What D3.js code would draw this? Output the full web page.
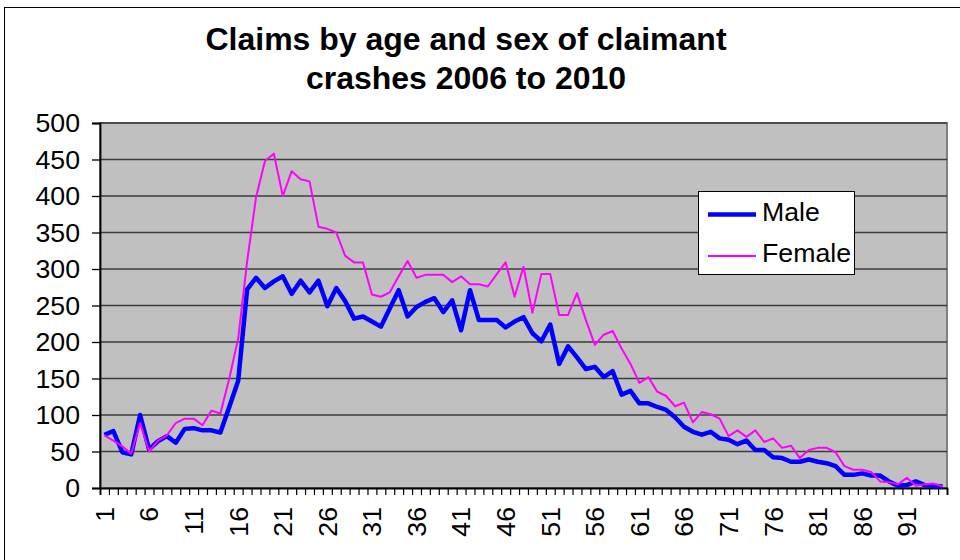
<!DOCTYPE html>
<html>
<head>
<meta charset="utf-8">
<script src="https://cdn.jsdelivr.net/npm/d3@7"></script>
<style>
  body { margin: 0; background: #fff; }
  svg { display: block; font-family: "Liberation Sans", Arial, sans-serif; }
</style>
</head>
<body>
<div id="chart"></div>
<script>
// Claims by age and sex of claimant, crashes 2006 to 2010

var titleLines = ['Claims by age and sex of claimant', 'crashes 2006 to 2010'];

// ages 1..95
var ages = d3.range(1, 96);

var maleClaims = [
  73, 78, 49, 46, 100, 53, 64, 71, 62, 81,
  82, 79, 79, 76, 111, 147, 272, 288, 274, 283,
  290, 266, 284, 268, 284, 249, 274, 256, 232, 235,
  228, 221, 246, 271, 235, 248, 255, 260, 241, 257,
  216, 271, 230, 230, 230, 220, 228, 234, 212, 201,
  224, 170, 194, 179, 163, 166, 152, 160, 128, 133,
  116, 116, 111, 107, 97, 84, 77, 73, 77, 68,
  66, 60, 65, 52, 52, 42, 41, 36, 36, 39,
  36, 34, 30, 18, 18, 20, 17, 17, 9, 3,
  4, 9, 4, 3, 2
];

var femaleClaims = [
  72, 65, 57, 47, 89, 50, 65, 72, 89, 95,
  95, 86, 106, 102, 150, 205, 310, 398, 448, 458,
  400, 434, 423, 420, 358, 355, 350, 318, 309, 309,
  265, 262, 268, 290, 311, 288, 292, 292, 292, 282,
  290, 279, 279, 276, 293, 309, 262, 303, 240, 293,
  293, 237, 237, 267, 230, 196, 210, 215, 191, 170,
  144, 152, 132, 126, 112, 117, 90, 104, 101, 95,
  71, 79, 70, 79, 63, 68, 55, 58, 41, 52,
  55, 55, 49, 30, 25, 25, 22, 9, 8, 5,
  14, 3, 5, 6, 2
];

var yTicks = [0, 50, 100, 150, 200, 250, 300, 350, 400, 450, 500];
var xLabels = [1, 6, 11, 16, 21, 26, 31, 36, 41, 46, 51, 56, 61, 66, 71, 76, 81, 86, 91];

var seriesNames = ['Male', 'Female'];
var seriesColors = ['#0000ff', '#ff00ff'];
var seriesWidths = [4.5, 2];

var width = 960, height = 560;
var margin = {top: 123, right: 13, bottom: 72, left: 100};

var svg = d3.select('#chart').append('svg')
    .attr('width', width)
    .attr('height', height);

// outer chart border
svg.append('rect')
    .attr('x', 4.5).attr('y', 7.5)
    .attr('width', 1200).attr('height', 1200)
    .attr('fill', '#fff')
    .attr('stroke', '#000')
    .attr('stroke-width', 1);

// title
svg.append('g').selectAll('text')
    .data(titleLines)
    .enter().append('text')
    .attr('x', 466)
    .attr('y', function(d, i) { return 50 + i * 39; })
    .attr('text-anchor', 'middle')
    .style('font-size', '32px')
    .style('font-weight', 'bold')
    .text(function(d) { return d; });

var x = d3.scaleBand()
    .domain(ages)
    .range([margin.left, width - margin.right])
    .padding(0);

var xEdge = d3.scaleLinear()
    .domain([0, ages.length])
    .range([margin.left, width - margin.right]);

var y = d3.scaleLinear()
    .domain([0, 500])
    .range([height - margin.bottom, margin.top]);

// plot background
svg.append('rect')
    .attr('x', margin.left)
    .attr('y', margin.top)
    .attr('width', width - margin.left - margin.right)
    .attr('height', height - margin.top - margin.bottom)
    .attr('fill', '#c0c0c0')
    .attr('stroke', '#808080')
    .attr('stroke-width', 2);

// gridlines
svg.append('g')
    .selectAll('line')
    .data(yTicks.filter(function(d) { return d > 0; }))
    .enter().append('line')
    .attr('x1', margin.left)
    .attr('x2', width - margin.right)
    .attr('y1', function(d) { return y(d); })
    .attr('y2', function(d) { return y(d); })
    .attr('stroke', '#3c3c3c')
    .attr('stroke-width', 1.3);

// y axis
var yAxis = svg.append('g')
    .attr('transform', 'translate(' + margin.left + ',0)')
    .call(d3.axisLeft(y).tickValues(yTicks).tickSize(8).tickPadding(12));
yAxis.selectAll('text')
    .style('font-size', '26.7px')
    .attr('fill', '#000');
yAxis.selectAll('line').attr('stroke', '#000').attr('stroke-width', 1.3);
yAxis.select('.domain').attr('stroke', '#000').attr('stroke-width', 1.8);

// x axis tick marks at category boundaries
var xTickAxis = svg.append('g')
    .attr('transform', 'translate(0,' + (height - margin.bottom) + ')')
    .call(d3.axisBottom(xEdge).tickValues(d3.range(0, ages.length + 1)).tickSize(7).tickFormat(''));
xTickAxis.selectAll('line').attr('stroke', '#000').attr('stroke-width', 1.2);
xTickAxis.select('.domain').attr('stroke', '#000').attr('stroke-width', 1.8);

// x labels, rotated
var xLabelAxis = svg.append('g')
    .attr('transform', 'translate(0,' + (height - margin.bottom) + ')')
    .call(d3.axisBottom(x).tickValues(xLabels).tickSize(0));
xLabelAxis.select('.domain').remove();
xLabelAxis.selectAll('text')
    .style('font-size', '26.7px')
    .attr('fill', '#000')
    .attr('text-anchor', 'end')
    .attr('transform', 'rotate(-90)')
    .attr('x', -19)
    .attr('y', 0)
    .attr('dy', '0.35em');

// lines
var line = d3.line()
    .x(function(d, i) { return x(ages[i]) + x.bandwidth() / 2; })
    .y(function(d) { return y(d); });

[maleClaims, femaleClaims].forEach(function(values, i) {
    svg.append('path')
        .datum(values)
        .attr('fill', 'none')
        .attr('stroke', seriesColors[i])
        .attr('stroke-width', seriesWidths[i])
        .attr('stroke-linejoin', 'round')
        .attr('d', line);
});

// legend
var legend = svg.append('g').attr('transform', 'translate(698,191)');
legend.append('rect')
    .attr('x', 0.5).attr('y', 0.5)
    .attr('width', 156).attr('height', 83)
    .attr('fill', '#fff')
    .attr('stroke', '#000')
    .attr('stroke-width', 1);

seriesNames.forEach(function(name, i) {
    var ly = 23.5 + i * 41.5;
    legend.append('line')
        .attr('x1', 10).attr('x2', 58)
        .attr('y1', ly).attr('y2', ly)
        .attr('stroke', seriesColors[i])
        .attr('stroke-width', seriesWidths[i]);
    legend.append('text')
        .attr('x', 64)
        .attr('y', ly + 6)
        .style('font-size', '26.7px')
        .text(name);
});
</script>
</body>
</html>
